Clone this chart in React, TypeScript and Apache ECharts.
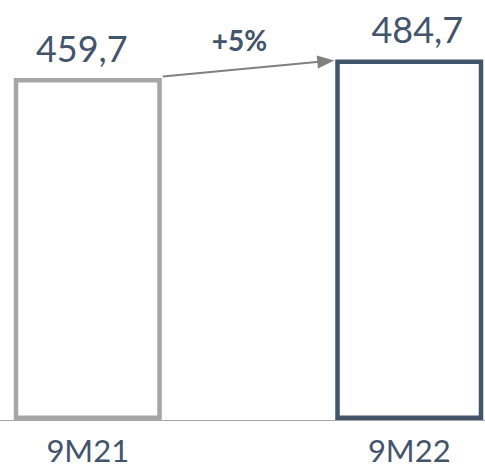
import React, { useEffect, useRef } from "react";
import * as echarts from "echarts";

const categories = ["9M21", "9M22"];
const values = [459.7, 484.7];
const valueLabels = ["459,7", "484,7"];
const barColors = ["#a6a6a6", "#44546a"];
const changeLabel = "+5%";

const TEXT = "#44546a";
const FONT = "Lato";

export default function App() {
  const ref = useRef<HTMLDivElement>(null);
  useEffect(() => {
    if (!ref.current) return;
    const chart = echarts.init(ref.current, undefined, { renderer: "svg" });
    const barWidth = 148;
    const labelOffsets = [[-6, 0], [8, 0]];
    chart.setOption({
      animation: false,
      backgroundColor: "#ffffff",
      grid: {
        left: -73,
        width: 643,
        top: 48,
        bottom: 51,
        containLabel: false,
        outerBoundsMode: "none",
      },
      xAxis: {
        type: "category",
        data: categories,
        axisLine: { show: true, lineStyle: { color: "#a6a6a6", width: 1 } },
        axisTick: { show: false },
        axisLabel: { color: TEXT, fontFamily: FONT, fontSize: 31, margin: 14 },
      },
      yAxis: {
        type: "value",
        min: 0,
        max: 500,
        show: false,
        splitLine: { show: false },
      },
      series: [
        {
          type: "bar",
          barWidth,
          data: values.map((v, i) => ({
            value: v,
            itemStyle: { color: "#ffffff", borderColor: barColors[i], borderWidth: 4.5 },
            label: {
              show: true,
              position: "top",
              distance: 12,
              offset: labelOffsets[i],
              formatter: valueLabels[i],
              color: TEXT,
              fontFamily: FONT,
              fontSize: 36,
            },
          })),
        },
      ],
    });

    const p1 = chart.convertToPixel({ seriesIndex: 0 }, [0, values[0]]) as number[];
    const p2 = chart.convertToPixel({ seriesIndex: 0 }, [1, values[1]]) as number[];
    const x1 = p1[0] + barWidth / 2 + 1;
    const y1 = p1[1] - 1.5;
    const x2 = p2[0] - barWidth / 2 - 1;
    const y2 = p2[1] + 1;
    const dx = x2 - x1;
    const dy = y2 - y1;
    const len = Math.sqrt(dx * dx + dy * dy);
    const ux = dx / len;
    const uy = dy / len;
    const headLen = 17;
    const headHalf = 6.5;
    const bx = x2 - ux * headLen;
    const by = y2 - uy * headLen;
    chart.setOption({
      graphic: [
        {
          type: "line",
          shape: { x1, y1, x2: bx + ux * 2, y2: by + uy * 2 },
          style: { stroke: "#808080", lineWidth: 2 },
        },
        {
          type: "polygon",
          shape: {
            points: [
              [x2, y2],
              [bx - uy * headHalf, by + ux * headHalf],
              [bx + uy * headHalf, by - ux * headHalf],
            ],
          },
          style: { fill: "#808080" },
        },
        {
          type: "text",
          x: (x1 + x2) / 2 - 9,
          y: (y1 + y2) / 2 - 28,
          style: {
            text: changeLabel,
            fill: TEXT,
            font: `bold 28px ${FONT}`,
            textAlign: "center",
            textVerticalAlign: "middle",
          },
        },
      ],
    });
    return () => chart.dispose();
  }, []);
  return <div ref={ref} style={{ width: 485, height: 471, position: "absolute", left: 0, top: 0 }} />;
}
